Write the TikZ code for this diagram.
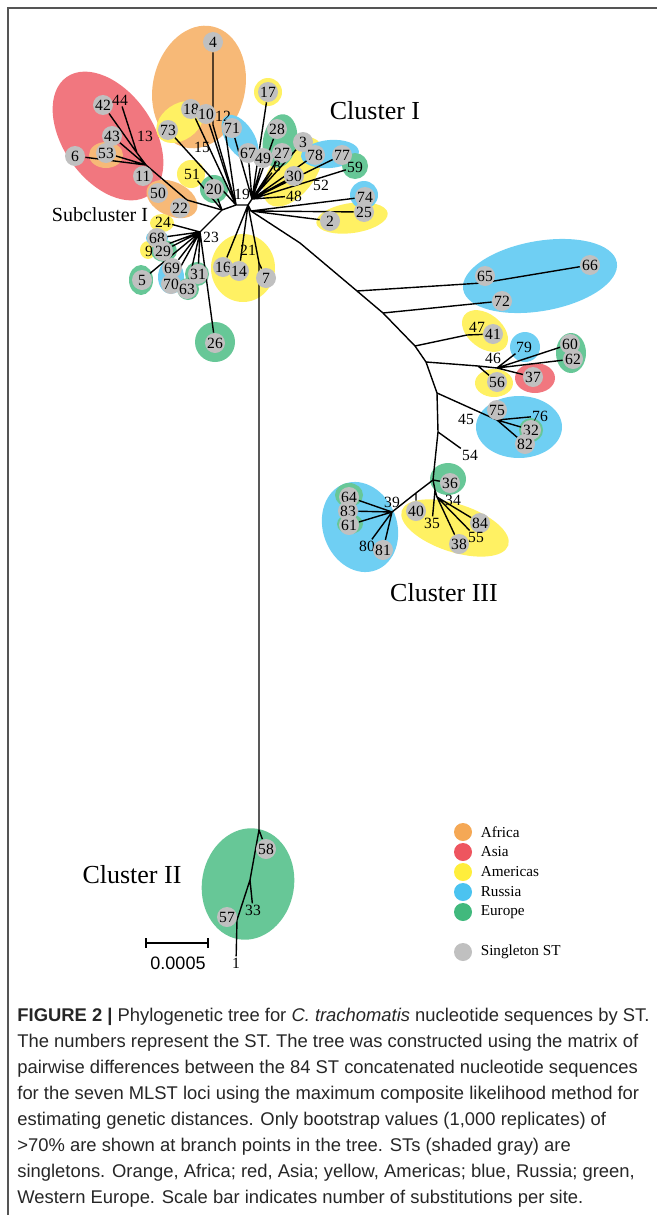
\documentclass[tikz,border=0pt]{standalone}
\usepackage{fontspec}
\setmainfont{Liberation Serif}
\setsansfont{Liberation Sans}
\usetikzlibrary{positioning}
\definecolor{africa}{RGB}{245,168,85}
\definecolor{asia}{RGB}{238,85,95}
\definecolor{americas}{RGB}{255,238,60}
\definecolor{russia}{RGB}{75,195,240}
\definecolor{europe}{RGB}{65,185,125}
\definecolor{single}{RGB}{192,192,192}
\definecolor{framec}{RGB}{85,85,85}
\pgfdeclarelayer{back}
\pgfdeclarelayer{edge}
\pgfsetlayers{back,edge,main}

\begin{document}
\begin{tikzpicture}[x=0.5pt,y=-0.5pt,
  st/.style={circle,fill=single,inner sep=0pt,minimum size=10pt,font=\fontsize{7.8}{8}\selectfont},
  lb/.style={inner sep=0.5pt,font=\fontsize{7.8}{8}\selectfont},
  br/.style={line width=0.7pt},
  clu/.style={font=\fontsize{13}{15}\selectfont},
  leg/.style={circle,inner sep=0pt,minimum size=9pt},
  legtxt/.style={inner sep=0pt,font=\fontsize{7.6}{9}\selectfont},
  captxt/.style={inner sep=0pt,anchor=base west,text=black!85,font=\sffamily\fontsize{9.2}{10}\selectfont}]
\useasboundingbox (0,0) rectangle (657,1215);
\draw[framec,line width=1pt] (8,1215) -- (8,8) -- (657,8);

% region shading
\begin{pgfonlayer}{back}
\fill[asia!80!white,rotate around={-55:(108,136)}] (108,136) ellipse[x radius=72,y radius=45];
\fill[africa!80!white,rotate around={-13:(199,87)}] (199,87) ellipse[x radius=46,y radius=62];
\fill[africa!80!white] (106,155) ellipse[x radius=17,y radius=13];
\fill[africa!80!white,rotate around={-25:(172,199)}] (172,199) ellipse[x radius=27,y radius=17];
\fill[americas!80!white,rotate around={35:(180,122)}] (180,122) ellipse[x radius=26,y radius=18];
\fill[americas!80!white] (268,92) circle[radius=14];
\fill[americas!80!white] (191,174) circle[radius=14];
\fill[americas!80!white,rotate around={53:(293,172)}] (293,172) ellipse[x radius=40,y radius=22];
\fill[americas!80!white,rotate around={8:(352,218)}] (352,218) ellipse[x radius=36,y radius=15];
\fill[americas!80!white] (243,268) ellipse[x radius=32,y radius=34];
\fill[americas!80!white] (162,223) ellipse[x radius=12,y radius=9];
\fill[americas!80!white] (148,250) ellipse[x radius=8,y radius=9];
\fill[russia!80!white,rotate around={-57:(240,138)}] (240,138) ellipse[x radius=26,y radius=14];
\fill[europe!80!white,rotate around={80:(280,141)}] (280,141) ellipse[x radius=27,y radius=17];
\fill[russia!80!white,rotate around={5:(330,154)}] (330,154) ellipse[x radius=29,y radius=14];
\fill[europe!80!white] (355,166) circle[radius=13];
\fill[russia!80!white] (364,195) circle[radius=14];
\fill[europe!80!white] (214,189) circle[radius=14];
\fill[russia!80!white] (157,238) ellipse[x radius=11,y radius=8];
\fill[europe!80!white] (164,251) ellipse[x radius=13,y radius=11];
\fill[europe!80!white] (141,280) ellipse[x radius=12,y radius=15];
\fill[russia!80!white] (171,277) ellipse[x radius=13,y radius=17];
\fill[europe!80!white] (188,289) circle[radius=11];
\fill[europe!80!white] (197,274) circle[radius=12];
\fill[europe!80!white] (215,342) circle[radius=20];
\fill[russia!80!white,rotate around={10:(540,276)}] (540,276) ellipse[x radius=78,y radius=35];
\fill[americas!80!white,rotate around={-38:(485,331)}] (485,331) ellipse[x radius=26,y radius=17];
\fill[russia!80!white] (525,347) circle[radius=15];
\fill[europe!80!white] (571,353) ellipse[x radius=15,y radius=20];
\fill[asia!80!white] (535,378) ellipse[x radius=20,y radius=15];
\fill[americas!80!white] (494,383) ellipse[x radius=19,y radius=14];
\fill[russia!80!white] (519,427) ellipse[x radius=43,y radius=31];
\fill[europe!80!white] (531,430) circle[radius=12];
\fill[europe!80!white] (448,479) ellipse[x radius=18,y radius=16];
\fill[americas!80!white,rotate around={-18:(455,528)}] (455,528) ellipse[x radius=56,y radius=24];
\fill[russia!80!white,rotate around={-70:(360,527)}] (360,527) ellipse[x radius=46,y radius=37];
\fill[europe!80!white] (349,495) ellipse[x radius=14,y radius=12];
\fill[europe!80!white] (350,524) ellipse[x radius=13,y radius=10];
\fill[europe!80!white,rotate around={80:(248,884)}] (248,884) ellipse[x radius=56,y radius=46];
\end{pgfonlayer}

% STs, top left
\node[st] (s4) at (213,42) {4};
\node[st] (s42) at (103,105) {42};
\node[lb] (s44) at (120,100) {44};
\node[lb] (t13) at (145,136) {13};
\node[st] (s43) at (112,136) {43};
\node[st] (s53) at (106,153) {53};
\node[st] (s6) at (75,156) {6};
\node[st] (s11) at (143,176) {11};
\node[st] (s50) at (158,193) {50};
\node[st] (s22) at (180,208) {22};
\node[st] (s18) at (191,109) {18};
\node[st] (s10) at (206,114) {10};
\node[lb] (s12) at (223,116) {12};
\node[st] (s73) at (168,130) {73};
\node[lb] (t15) at (202,147) {15};
\node[lb] (s51) at (192,174) {51};
\node[st] (s20) at (214,189) {20};
\node[lb] (t19) at (242,194) {19};
\node[st] (s17) at (268,92) {17};
\node[st] (s71) at (232,128) {71};
\node[st] (s67) at (248,153) {67};
\node[st] (s49) at (263,158) {49};
\node[st] (s28) at (277,129) {28};
\node[st] (s27) at (282,153) {27};
\node[lb] (s8) at (277,166) {8};
\node[st] (s3) at (303,142) {3};
\node[st] (s78) at (315,155) {78};
\node[st] (s77) at (342,155) {77};
\node[lb] (s59) at (355,167) {59};
\node[st] (s30) at (294,176) {30};
\node[lb] (t52) at (321,185) {52};
\node[lb] (s48) at (294,196) {48};
\node[st] (s74) at (365,197) {74};
\node[st] (s25) at (364,212) {25};
\node[st] (s2) at (330,221) {2};
\node[lb] (s24) at (163,222) {24};
\node[st] (s68) at (157,238) {68};
\node[lb] (s9) at (149,251) {9};
\node[st] (s29) at (163,251) {29};
\node[lb] (t23) at (211,237) {23};
\node[st] (s5) at (142,280) {5};
\node[st] (s69) at (172,268) {69};
\node[st] (s70) at (171,284) {70};
\node[st] (s63) at (187,289) {63};
\node[st] (s31) at (198,274) {31};
\node[st] (s26) at (215,343) {26};
\node[lb] (s21) at (248,250) {21};
\node[st] (s16) at (223,267) {16};
\node[st] (s14) at (239,271) {14};
\node[st] (s7) at (266,278) {7};
% STs, right
\node[st] (s65) at (485,276) {65};
\node[st] (s66) at (590,265) {66};
\node[st] (s72) at (502,301) {72};
\node[lb] (s47) at (477,327) {47};
\node[st] (s41) at (493,334) {41};
\node[lb] (s79) at (524,347) {79};
\node[st] (s60) at (570,344) {60};
\node[st] (s62) at (573,359) {62};
\node[lb] (t46) at (493,358) {46};
\node[st] (s37) at (533,377) {37};
\node[st] (s56) at (497,382) {56};
\node[st] (s75) at (497,410) {75};
\node[lb] (t45) at (466,419) {45};
\node[lb] (s76) at (540,416) {76};
\node[st] (s32) at (531,430) {32};
\node[st] (s82) at (525,444) {82};
\node[lb] (s54) at (470,455) {54};
\node[st] (s36) at (450,483) {36};
\node[lb] (t39) at (392,502) {39};
\node[lb] (t34) at (453,500) {34};
\node[st] (s40) at (416,511) {40};
\node[lb] (s35) at (432,523) {35};
\node[st] (s84) at (480,523) {84};
\node[lb] (s55) at (476,537) {55};
\node[st] (s38) at (459,544) {38};
\node[st] (s64) at (349,497) {64};
\node[st] (s83) at (348,511) {83};
\node[st] (s61) at (349,525) {61};
\node[lb] (s80) at (367,546) {80};
\node[st] (s81) at (383,550) {81};
% STs, bottom
\node[st] (s58) at (266,849) {58};
\node[lb] (s33) at (253,910) {33};
\node[st] (s57) at (227,917) {57};
\node[lb] (s1) at (236,963) {1};

\node[font=\fontsize{10}{12}\selectfont] (sub) at (100,215) {Subcluster I};
\node[clu] (cI) at (375,111) {Cluster I};
\node[clu] (cII) at (132,875) {Cluster II};
\node[clu] (cIII) at (444,593) {Cluster III};

% branch points
\coordinate (j19) at (252,199);
\coordinate (j0) at (248,205);
\coordinate (jB) at (236,205);
\coordinate (jR) at (251,211);
\coordinate (jA) at (222,210);
\coordinate (j22) at (187,200);
\coordinate (jAs) at (146,165);
\coordinate (j13) at (137,153);
\coordinate (j4) at (213,125);
\coordinate (j23) at (200,232);
\coordinate (jT) at (259,263);
\coordinate (b1) at (300,243);
\coordinate (b2) at (357,291);
\coordinate (b3) at (383,313);
\coordinate (b4) at (415,346);
\coordinate (b5) at (426,362);
\coordinate (b6) at (437,393);
\coordinate (b7) at (438,432);
\coordinate (j36) at (433,480);
\coordinate (j65) at (482,283);
\coordinate (j47) at (467,335);
\coordinate (j56) at (478,366);
\coordinate (j46) at (497,368);
\coordinate (j45) at (497,420);
\coordinate (j40) at (416,493);
\coordinate (j35) at (435,490);
\coordinate (j34) at (437,497);
\coordinate (j39) at (392,512);
\coordinate (c0) at (259,830);
\coordinate (c33) at (250,880);
\coordinate (c57) at (237,920);

\begin{pgfonlayer}{edge}
\draw[br] (j19) -- (s17) (j19) -- (s71) (j19) -- (s67) (j19) -- (s49) (j19) -- (s28) (j19) -- (s27)
  (j19) -- (s8) (j19) -- (s3) (j19) -- (s78) (j19) -- (s77) (j19) -- (s59) (j19) -- (s30) (j19) -- (s48);
\draw[br] (jB) -- (s10) (jB) -- (s18) (jB) -- (s12) (jB) -- (s73);
\draw[br] (s4) -- (j4) -- (jB);
\draw[br] (s51) -- (jA) (s20) -- (jA);
\draw[br] (jAs) -- (j22) -- (jA) -- (jB) -- (j0) -- (j19);
\draw[br] (jAs) -- (j13) -- (s42) (j13) -- (s44) (jAs) -- (s43) (jAs) -- (s53) (jAs) -- (s6);
\draw[br] (jA) -- (j23);
\draw[br] (j23) -- (s24) (j23) -- (s68) (j23) -- (s29) (j23) -- (s9) (j23) -- (s69) (j23) -- (s70)
  (j23) -- (s63) (j23) -- (s31) (j23) -- (s5) (j23) -- (s26);
\draw[br] (j0) -- (s16) (j0) -- (s14);
\draw[br] (j0) -- (jT) -- (s7);
\draw[br] (j0) -- (jR) (jR) -- (s74) (jR) -- (s25) (jR) -- (s2);
% long branch to cluster III
\draw[br] (jR) -- (b1) -- (b2) -- (b3) -- (b4) -- (b5) -- (b6) -- (b7) -- (j36);
\draw[br] (b2) -- (j65) -- (s66) (b3) -- (s72) (b4) -- (j47) -- (s41);
\draw[br] (b5) -- (j56) -- (j46) (j56) -- (s56);
\draw[br] (j46) -- (s79) (j46) -- (s60) (j46) -- (s62) (j46) -- (s37);
\draw[br] (b6) -- (j45) -- (s76) (j45) -- (s32) (j45) -- (s82);
\draw[br] (b7) -- (s54);
\draw[br] (j36) -- (s36) (j36) -- (j40) -- (j39) (j40) -- (s40);
\draw[br] (j36) -- (j35) -- (s35) (j35) -- (j34);
\draw[br] (j34) -- (s84) (j34) -- (s55) (j34) -- (s38);
\draw[br] (j39) -- (s64) (j39) -- (s83) (j39) -- (s61) (j39) -- (s80) (j39) -- (s81);
% trunk to cluster II
\draw[br] (jT) -- (c0) -- (s58) (c0) -- (c33) -- (s33) (c33) -- (c57) -- (s1);
\end{pgfonlayer}

% scale bar
\coordinate (sb1) at (146,943);
\coordinate (sb2) at (208,943);
\draw[br] (sb1) -- (sb2) ([yshift=2.5pt]sb1) -- ([yshift=-2.5pt]sb1) ([yshift=2.5pt]sb2) -- ([yshift=-2.5pt]sb2);
\node[font=\sffamily\fontsize{9}{10}\selectfont] (sbl) at (178,963) {0.0005};

% legend
\node[leg,fill=africa] (kAf) at (463,832) {};
\node[leg,fill=asia] (kAs) at (463,852) {};
\node[leg,fill=americas] (kAm) at (463,872) {};
\node[leg,fill=russia] (kRu) at (463,892) {};
\node[leg,fill=europe] (kEu) at (463,912) {};
\node[leg,fill=single] (kSi) at (463,952) {};
\node[legtxt,right=4pt of kAf] (tAf) {Africa};
\node[legtxt,right=4pt of kAs] (tAs) {Asia};
\node[legtxt,right=4pt of kAm] (tAm) {Americas};
\node[legtxt,right=4pt of kRu] (tRu) {Russia};
\node[legtxt,right=4pt of kEu] (tEu) {Europe};
\node[legtxt,right=4pt of kSi] (tSi) {Singleton ST};

% caption
\node[captxt] (cap1) at (17,1021) {\textbf{FIGURE 2 |} Phylogenetic tree for \textit{C. trachomatis} nucleotide sequences by ST.};
\node[captxt] (cap2) at (17,1047) {The numbers represent the ST. The tree was constructed using the matrix of};
\node[captxt] (cap3) at (17,1073) {pairwise differences between the 84 ST concatenated nucleotide sequences};
\node[captxt] (cap4) at (17,1099) {for the seven MLST loci using the maximum composite likelihood method for};
\node[captxt] (cap5) at (17,1125) {estimating genetic distances. Only bootstrap values (1,000 replicates) of};
\node[captxt] (cap6) at (17,1151) {{>}70\% are shown at branch points in the tree. STs (shaded gray) are};
\node[captxt] (cap7) at (17,1177) {singletons. Orange, Africa; red, Asia; yellow, Americas; blue, Russia; green,};
\node[captxt] (cap8) at (17,1203) {Western Europe. Scale bar indicates number of substitutions per site.};
\end{tikzpicture}
\end{document}
